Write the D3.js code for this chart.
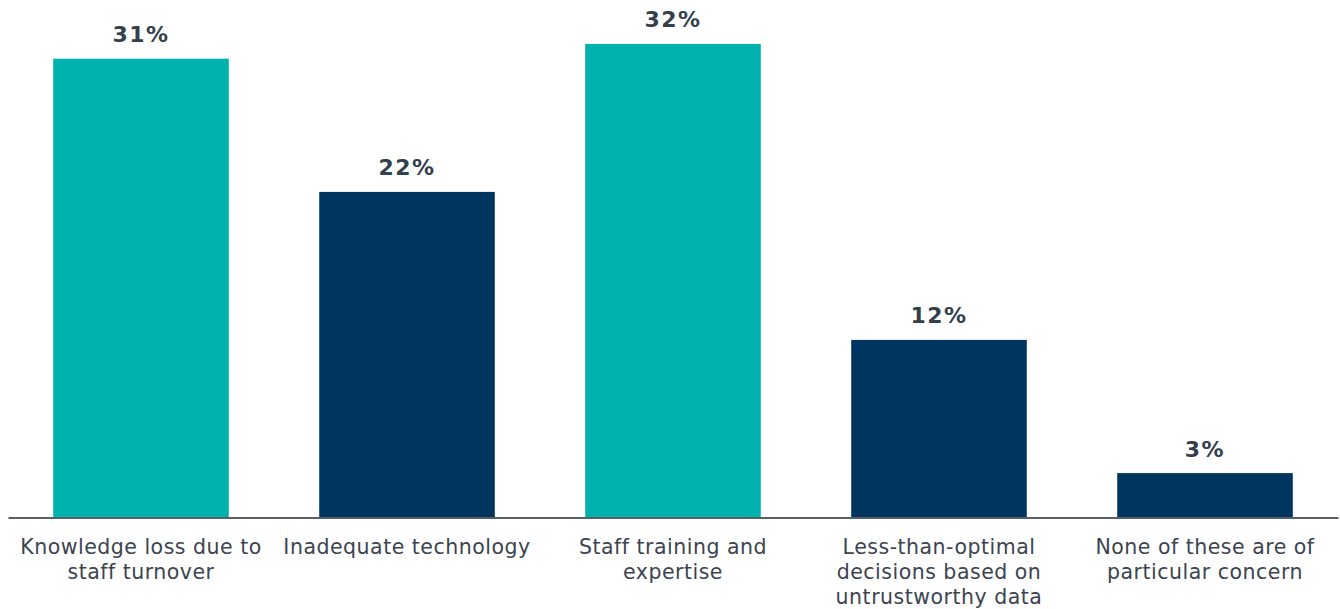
<!DOCTYPE html>
<html>
<head>
<meta charset="utf-8">
<script src="https://cdn.jsdelivr.net/npm/d3@7"></script>
<style>
  html, body { margin: 0; padding: 0; background: #ffffff; }
  svg { display: block; font-family: Verdana, "DejaVu Sans", sans-serif; }
</style>
</head>
<body>
<svg id="chart" width="1340" height="609"></svg>
<script>
// Survey responses: share of respondents per concern
const categories = [
  ["Knowledge loss due to", "staff turnover"],
  ["Inadequate technology"],
  ["Staff training and", "expertise"],
  ["Less-than-optimal", "decisions based on", "untrustworthy data"],
  ["None of these are of", "particular concern"]
];
const values = [31, 22, 32, 12, 3];
const barColors = ["#00b2ae", "#00355f", "#00b2ae", "#00355f", "#00355f"];

const width = 1340, height = 609;
const margin = { left: 8, right: 2, top: 0, baseline: 517.5 };

const svg = d3.select("#chart");

const x = d3.scaleBand()
  .domain(d3.range(values.length))
  .range([margin.left, width - margin.right])
  .paddingInner(0.34)
  .paddingOuter(0.17);

const y = d3.scaleLinear()
  .domain([0, 1])
  .range([margin.baseline, margin.baseline - 14.8]);

// Bars
svg.append("g")
  .selectAll("rect")
  .data(values)
  .join("rect")
  .attr("x", (d, i) => x(i))
  .attr("width", x.bandwidth())
  .attr("y", d => y(d))
  .attr("height", d => y(0) - y(d))
  .attr("fill", (d, i) => barColors[i]);

// Value labels above bars
svg.append("g")
  .selectAll("text")
  .data(values)
  .join("text")
  .attr("x", (d, i) => x(i) + x.bandwidth() / 2)
  .attr("y", d => y(d) - 16.5)
  .attr("text-anchor", "middle")
  .attr("font-size", 22)
  .attr("font-weight", "bold")
  .attr("letter-spacing", 1.5)
  .attr("fill", "#333f4c")
  .text(d => d + "%");

// Baseline axis
const xAxis = d3.axisBottom(x).tickSize(0).tickFormat("");
const axisG = svg.append("g")
  .attr("transform", `translate(0,${margin.baseline})`)
  .call(xAxis);
axisG.select(".domain").attr("stroke", "#5a5f66").attr("stroke-width", 2);

// Category labels (multi-line)
const labelG = svg.append("g");
categories.forEach((lines, i) => {
  const t = labelG.append("text")
    .attr("x", x(i) + x.bandwidth() / 2)
    .attr("y", 554)
    .attr("text-anchor", "middle")
    .attr("font-size", 20.5)
    .attr("letter-spacing", 0.5)
    .attr("fill", "#3b4450");
  lines.forEach((line, j) => {
    t.append("tspan")
      .attr("x", x(i) + x.bandwidth() / 2)
      .attr("dy", j === 0 ? 0 : 25)
      .text(line);
  });
});
</script>
</body>
</html>
